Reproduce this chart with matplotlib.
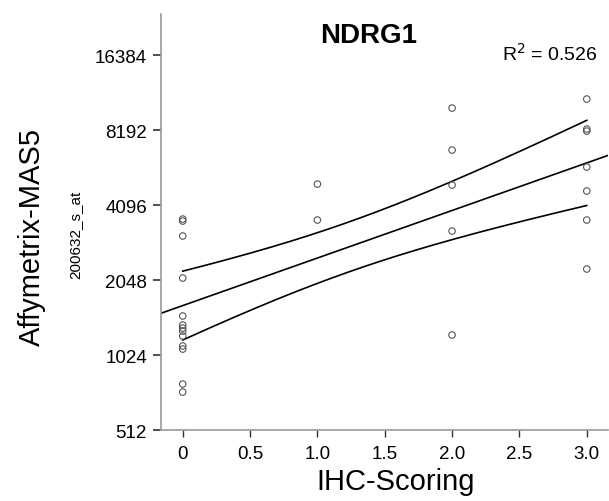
import numpy as np
import matplotlib
matplotlib.use("Agg")
import matplotlib.pyplot as plt
from matplotlib.ticker import FixedLocator, FixedFormatter

plt.rcParams['font.family'] = ['Liberation Sans', 'DejaVu Sans']

# Data: IHC score and expression values (200632_s_at)
score_0 = [3598, 3533, 3076, 2086, 1469, 1351, 1314, 1278, 1221, 1113, 1082, 783, 727]
score_1 = [4973, 3566]
score_2 = [10037, 6809, 4927, 3221, 1232]
score_3 = [10910, 8270, 8116, 5819, 4662, 3566, 2268]

x = np.array([0]*len(score_0) + [1]*len(score_1) + [2]*len(score_2) + [3]*len(score_3), dtype=float)
y = np.array(score_0 + score_1 + score_2 + score_3, dtype=float)

yticks = [512, 1024, 2048, 4096, 8192, 16384]
xticks = [0, 0.5, 1.0, 1.5, 2.0, 2.5, 3.0]
xticklabels = ["0", "0.5", "1.0", "1.5", "2.0", "2.5", "3.0"]
r2_text = "R$^2$ = 0.526"

# Regression in log2 space
ly = np.log2(y)
n = len(x)
slope, intercept = np.polyfit(x, ly, 1)
resid = ly - (slope * x + intercept)
s = np.sqrt(np.sum(resid**2) / (n - 2))
sxx = np.sum((x - x.mean())**2)
t_crit = 2.0595  # t(0.975, df=25)

fig = plt.figure(figsize=(6.09, 5.02), dpi=100)
ax = fig.add_axes([0.264, 0.1414, 0.734, 0.8286])

xlim = (-0.163, 3.156)
xl = np.linspace(xlim[0], xlim[1], 200)
ax.plot(xl, 2**(slope * xl + intercept), color='black', lw=1.2, zorder=2)
xb = np.linspace(0, 3, 200)
se = s * np.sqrt(1.0 / n + (xb - x.mean())**2 / sxx)
fit_b = slope * xb + intercept
ax.plot(xb, 2**(fit_b + t_crit * se), color='black', lw=1.2, zorder=2)
ax.plot(xb, 2**(fit_b - t_crit * se), color='black', lw=1.2, zorder=2)

ax.scatter(x, y, s=22, facecolors='none', edgecolors='#555555', linewidths=0.8, zorder=3)

ax.set_yscale('log', base=2)
ax.set_xlim(*xlim)
ax.set_ylim(512, 2**14.547)
ax.yaxis.set_major_locator(FixedLocator(yticks))
ax.yaxis.set_major_formatter(FixedFormatter([str(v) for v in yticks]))
ax.yaxis.set_minor_locator(FixedLocator([]))
ax.set_xticks(xticks)
ax.set_xticklabels(xticklabels)

for side in ['top', 'right']:
    ax.spines[side].set_visible(False)
for side in ['left', 'bottom']:
    ax.spines[side].set_color('#999999')
    ax.spines[side].set_linewidth(1.2)
ax.tick_params(axis='y', length=6, width=1.2, color='#333333', labelsize=13.5, pad=4)
ax.tick_params(axis='x', length=5, width=1.0, color='#333333', labelsize=13.5, pad=6)

fig.text(0.65, 0.04, "IHC-Scoring", fontsize=21, ha='center', va='center')
fig.text(0.052, 0.528, "Affymetrix-MAS5", rotation=90, fontsize=21, ha='center', va='center')
fig.text(0.123, 0.532, "200632_s_at", rotation=90, fontsize=11, ha='center', va='center')
fig.text(0.606, 0.928, "NDRG1", fontsize=20, fontweight='bold', ha='center', va='center')
fig.text(0.982, 0.893, r2_text, fontsize=14, ha='right', va='center')

fig.savefig("out.png", dpi=100)
